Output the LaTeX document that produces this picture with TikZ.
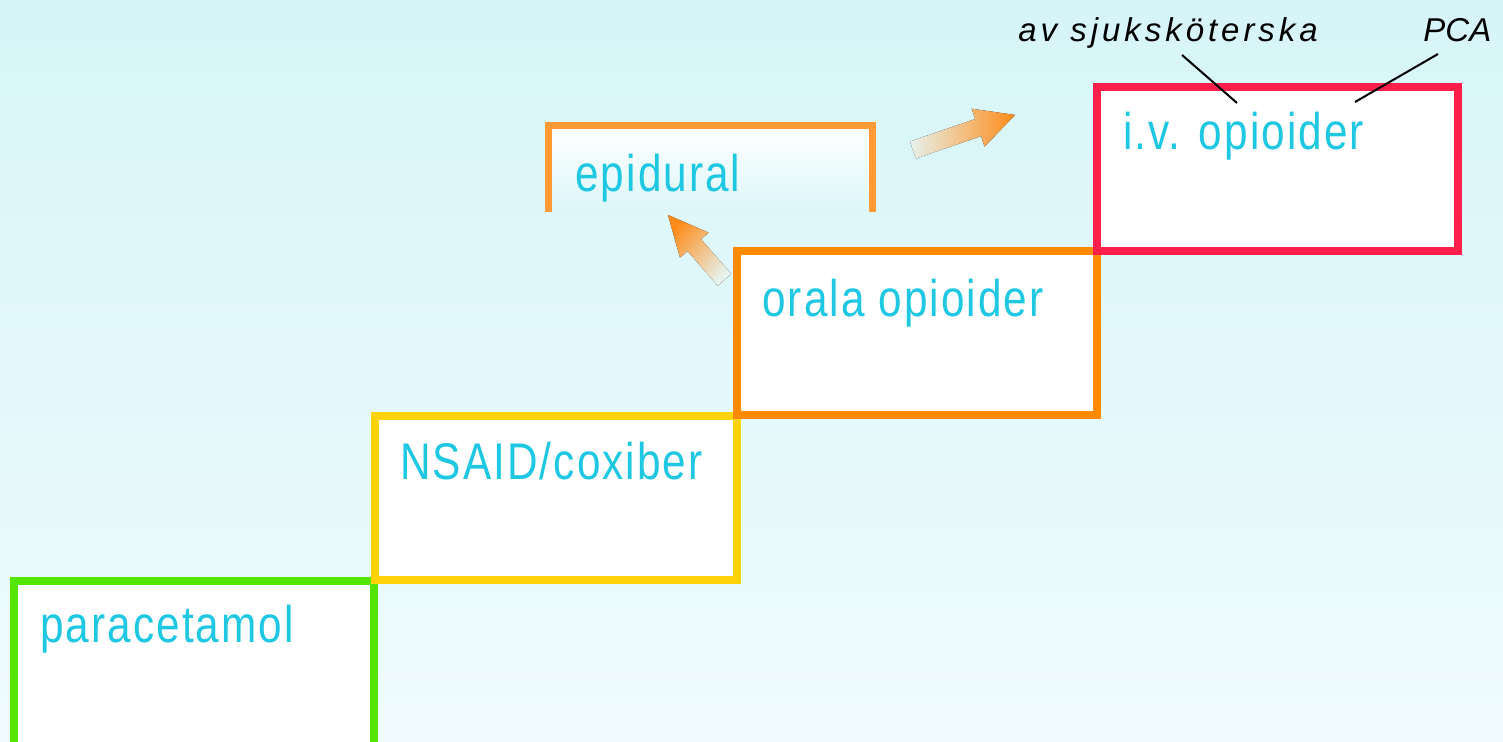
\documentclass[tikz,border=0pt]{standalone}
\usepackage{fontspec}
\newfontfamily\stepfont[FakeStretch=0.82,LetterSpace=4]{Liberation Sans}
\newfontfamily\notefont[LetterSpace=12]{Liberation Sans}
\newfontfamily\pcafont{Liberation Sans}
\definecolor{bgtop}{HTML}{D6F5F8}
\definecolor{bgbot}{HTML}{F0FBFD}
\definecolor{txtcyan}{HTML}{1EC8E2}
\definecolor{cgreen}{HTML}{55E600}
\definecolor{cyellow}{HTML}{FFD20A}
\definecolor{corange}{HTML}{FF8A00}
\definecolor{cred}{HTML}{FF1F4A}
\definecolor{cepi}{HTML}{FF9A35}
\definecolor{arrowhead}{HTML}{FF8C1A}
\definecolor{arrowtail}{HTML}{E6F2EC}
\begin{document}
\begin{tikzpicture}[x=0.5pt,y=-0.5pt,
  stepbox/.style={draw, fill=white, line width=4pt, anchor=north west,
    inner sep=0pt, outer sep=0pt},
  steplabel/.style={anchor=base west, inner sep=0pt, text=txtcyan,
    font=\stepfont\fontsize{25.8}{30}\selectfont},
  notelabel/.style={anchor=base west, inner sep=0pt, text=black},
  leader/.style={black, line width=1pt},
  fadearrow/.style={left color=arrowtail, right color=arrowhead, draw=none}]
\useasboundingbox (0,0) rectangle (1503,742);
\begin{scope}
\clip (0,0) rectangle (1503,742);
% background
\shade[top color=bgtop, bottom color=bgbot] (0,0) rectangle (1503,742);

% staircase of steps
\node[stepbox, draw=cgreen, minimum width=180pt, minimum height=110pt] (para) at (14,581) {};
\node[stepbox, draw=cyellow, minimum width=181pt, minimum height=82pt] (nsaid) at (375,416) {};
\node[stepbox, draw=corange, minimum width=180pt, minimum height=82pt] (oral) at (737,251) {};
\node[stepbox, draw=cred, minimum width=180.5pt, minimum height=82pt] (iv) at (1097,87) {};

% open epidural box
\shade[top color=white, bottom color=bgtop!85!white] (548,126) rectangle (872,212);
\draw[cepi, line width=3.5pt] (548,212) -- (548,126) -- (872,126) -- (872,212);

% step texts
\node[steplabel] (tpara) at (40,642) {paracetamol};
\node[steplabel] (tnsaid) at (400,480) {NSAID/coxiber};
\node[steplabel] (toral) at (762,317) {orala opioider};
\node[steplabel] (tiv) at (1123,150) {i.v. opioider};
\node[steplabel] (tepi) at (575,192) {epidural};

% annotations
\node[notelabel, font=\notefont\itshape\fontsize{16.5}{20}\selectfont] (nurse) at (1018,42) {av sjuksköterska};
\node[notelabel, font=\pcafont\itshape\fontsize{16.5}{20}\selectfont] (pca) at (1423,42) {PCA};
\coordinate (nurseend) at (1182,55);
\coordinate (nursetip) at (1237,103);
\coordinate (pcaend) at (1438,54);
\coordinate (pcatip) at (1355,102);
\draw[leader] (nurseend) -- (nursetip);
\draw[leader] (pcaend) -- (pcatip);

% fading arrows, pale tail to orange head
\begin{scope}[shift={(1015,115)}, rotate=18.9]
\fill[fadearrow]
  (-108,-9) -- (-39,-9) -- (-39,-20) -- (0,0) -- (-39,20) -- (-39,9) -- (-108,9) -- cycle;
\end{scope}
\begin{scope}[shift={(668,215)}, rotate=131.1]
\fill[fadearrow, shading angle=-131.1]
  (-86,-9) -- (-40,-9) -- (-40,-19) -- (0,0) -- (-40,19) -- (-40,9) -- (-86,9) -- cycle;
\end{scope}
\end{scope}
\end{tikzpicture}
\end{document}
